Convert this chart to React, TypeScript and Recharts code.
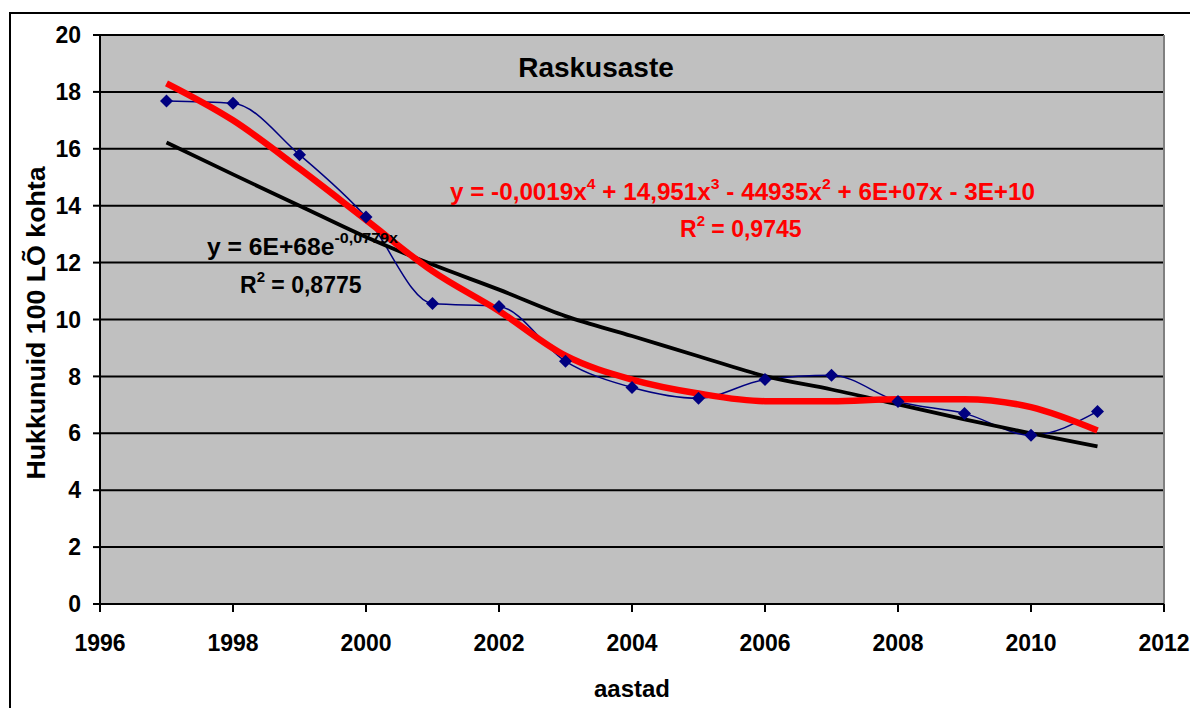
import { LineChart, Line, XAxis, YAxis, CartesianGrid, ReferenceLine } from 'recharts';

const years = [1997, 1998, 1999, 2000, 2001, 2002, 2003, 2004, 2005, 2006, 2007, 2008, 2009, 2010, 2011];
const observed = [17.68, 17.6, 15.79, 13.6, 10.56, 10.46, 8.53, 7.61, 7.23, 7.89, 8.04, 7.12, 6.7, 5.93, 6.77];
const polyTrend = [18.3, 17.0, 15.3, 13.5, 11.7, 10.3, 8.73, 7.89, 7.4, 7.13, 7.13, 7.2, 7.2, 6.92, 6.1];
const expTrend = [16.22, 15.1, 14.0, 12.9, 11.93, 11.05, 10.12, 9.42, 8.71, 8.01, 7.54, 7.02, 6.49, 6.0, 5.54];
const xTicks = [1996, 1998, 2000, 2002, 2004, 2006, 2008, 2010, 2012];
const yTicks = [0, 2, 4, 6, 8, 10, 12, 14, 16, 18, 20];

const data = years.map((year, i) => ({
    year,
    observed: observed[i],
    poly: polyTrend[i],
    expo: expTrend[i],
}));

const font = '"Liberation Sans", Arial, sans-serif';
const tickStyle = { fontSize: 23, fontWeight: 700, fill: '#000', fontFamily: font };

function Diamond(props: any) {
    const { cx, cy } = props;
    if (cx == null || cy == null) return null;
    const r = 6.5;
    return <path d={`M${cx},${cy - r}L${cx + r},${cy}L${cx},${cy + r}L${cx - r},${cy}Z`} fill="#000080" />;
}

export default function App() {
    return (
        <div style={{ position: 'absolute', left: 0, top: 0, width: 1190, height: 708, overflow: 'hidden', background: '#fff' }}>
            <div style={{ position: 'absolute', left: 9, top: 12, width: 1300, height: 800, borderLeft: '2px solid #000', borderTop: '2px solid #000' }} />
            <div style={{ position: 'absolute', left: 0, top: 0 }}>
                <LineChart width={1190} height={708} data={data} margin={{ top: 35, right: 26, bottom: 44, left: 40 }}>
                    <CartesianGrid vertical={false} stroke="#000" strokeWidth={2} fill="#c0c0c0" fillOpacity={1} />
                    <XAxis
                        dataKey="year"
                        type="number"
                        domain={[1996, 2012]}
                        ticks={xTicks}
                        interval={0}
                        height={60}
                        stroke="#000"
                        strokeWidth={2}
                        tickSize={8}
                        tickMargin={23}
                        tick={tickStyle}
                    />
                    <YAxis
                        type="number"
                        domain={[0, 20]}
                        ticks={yTicks}
                        interval={0}
                        width={60}
                        stroke="#000"
                        strokeWidth={2}
                        tickSize={7}
                        tickMargin={12}
                        tick={tickStyle}
                    />
                    <ReferenceLine x={2012} stroke="#808080" strokeWidth={2} />
                    <Line type="monotone" dataKey="observed" stroke="#000080" strokeWidth={1.5} dot={<Diamond />} isAnimationActive={false} />
                    <Line type="monotone" dataKey="expo" stroke="#000" strokeWidth={3.8} dot={false} isAnimationActive={false} />
                    <Line type="monotone" dataKey="poly" stroke="#ff0000" strokeWidth={6.5} dot={false} isAnimationActive={false} />
                </LineChart>
            </div>
            <svg width={1190} height={708} style={{ position: 'absolute', left: 0, top: 0, pointerEvents: 'none' }} fontFamily={font} fontWeight={700}>
                <text x={596} y={77} textAnchor="middle" fontSize={28} fill="#000">Raskusaste</text>
                <text x={632} y={697} textAnchor="middle" fontSize={24} fill="#000">aastad</text>
                <text transform="translate(45,323) rotate(-90)" textAnchor="middle" fontSize={26} fill="#000" textLength={313} lengthAdjust="spacingAndGlyphs">Hukkunuid 100 LÕ kohta</text>

                <text x={207} y={255} fontSize={23} fill="#000" textLength={191} lengthAdjust="spacingAndGlyphs">
                    y = 6E+68e<tspan fontSize={15} dy={-12}>-0,0779x</tspan>
                </text>
                <text x={240} y={293} fontSize={23} fill="#000">
                    R<tspan fontSize={15} dy={-11}>2</tspan><tspan dy={11}> = 0,8775</tspan>
                </text>

                <text x={450} y={200} fontSize={23} fill="#ff0000" textLength={585} lengthAdjust="spacingAndGlyphs">
                    y = -0,0019x<tspan fontSize={15} dy={-11}>4</tspan>
                    <tspan dy={11}> + 14,951x</tspan><tspan fontSize={15} dy={-11}>3</tspan>
                    <tspan dy={11}> - 44935x</tspan><tspan fontSize={15} dy={-11}>2</tspan>
                    <tspan dy={11}> + 6E+07x - 3E+10</tspan>
                </text>
                <text x={680} y={237} fontSize={23} fill="#ff0000">
                    R<tspan fontSize={15} dy={-11}>2</tspan><tspan dy={11}> = 0,9745</tspan>
                </text>
            </svg>
        </div>
    );
}
